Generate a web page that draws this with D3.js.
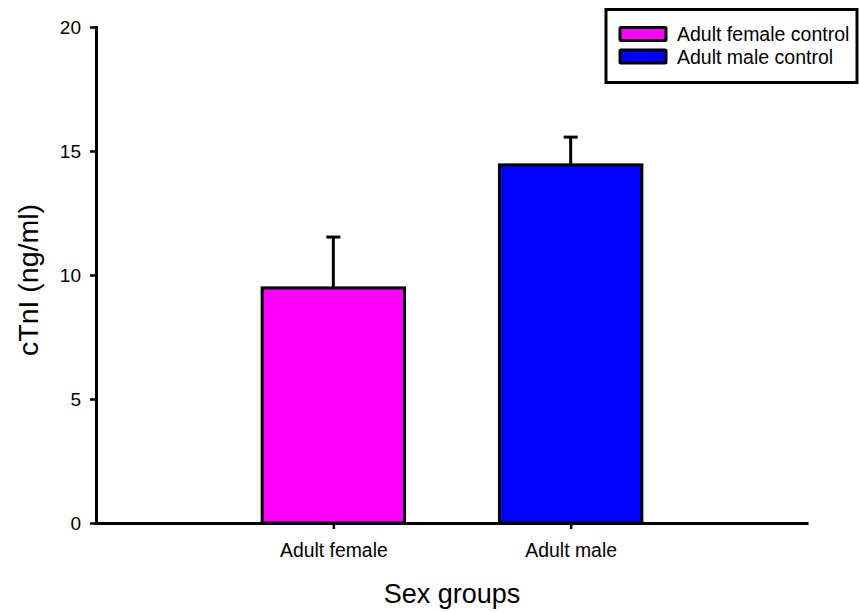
<!DOCTYPE html>
<html>
<head>
<meta charset="utf-8">
<script src="https://cdn.jsdelivr.net/npm/d3@7"></script>
<style>
  html, body { margin: 0; padding: 0; background: #fff; }
  svg { display: block; font-family: Arial, "Liberation Sans", sans-serif; }
</style>
</head>
<body>
<svg id="chart" width="859" height="612"></svg>
<script>
// Serum cTnI by sex group (mean with upper SE bar)
const categories = ["Adult female", "Adult male"];
const seriesNames = ["Adult female control", "Adult male control"];
const means = [9.48, 14.44];
const errors = [2.05, 1.12];
const colors = ["#ff00ff", "#0000ff"];
const yTicks = [0, 5, 10, 15, 20];

const svg = d3.select("#chart");
const plotLeft = 96, plotRight = 808, plotTop = 27, plotBottom = 523;
const fontFamily = "Arial, 'Liberation Sans', sans-serif";

const x = d3.scaleLinear().domain([0, categories.length + 1]).range([plotLeft, plotRight]);
const y = d3.scaleLinear().domain([0, 20]).range([plotBottom, plotTop]);
const barWidth = (x(1) - x(0)) * 0.6;

// bars
svg.append("g").selectAll("rect")
  .data(categories)
  .join("rect")
  .attr("x", (d, i) => x(i + 1) - barWidth / 2)
  .attr("y", (d, i) => y(means[i]))
  .attr("width", barWidth)
  .attr("height", (d, i) => y(0) - y(means[i]))
  .attr("fill", (d, i) => colors[i])
  .attr("stroke", "#000")
  .attr("stroke-width", 3);

// upper error bars
const eb = svg.append("g").attr("stroke", "#000").attr("stroke-width", 3);
categories.forEach((d, i) => {
  const cx = x(i + 1);
  eb.append("line").attr("x1", cx).attr("x2", cx)
    .attr("y1", y(means[i])).attr("y2", y(means[i] + errors[i]));
  eb.append("line").attr("x1", cx - 7).attr("x2", cx + 7)
    .attr("y1", y(means[i] + errors[i])).attr("y2", y(means[i] + errors[i]));
});

// y axis
const yAxis = svg.append("g")
  .attr("transform", `translate(${plotLeft},0)`)
  .call(d3.axisLeft(y).tickValues(yTicks).tickSize(6).tickSizeOuter(0).tickPadding(9));
yAxis.select(".domain").attr("stroke-width", 3).attr("stroke-linecap", "square");
yAxis.selectAll(".tick line").attr("stroke-width", 2.5);
yAxis.selectAll(".tick text").attr("font-size", 19).attr("fill", "#000")
  .attr("font-family", fontFamily);

// x axis
const xAxis = svg.append("g")
  .attr("transform", `translate(0,${plotBottom})`)
  .call(d3.axisBottom(x).tickValues([1, 2]).tickFormat(d => categories[d - 1])
    .tickSize(6).tickSizeOuter(0).tickPadding(14));
xAxis.select(".domain").attr("stroke-width", 3);
xAxis.selectAll(".tick line").attr("stroke-width", 2.5);
xAxis.selectAll(".tick text").attr("font-size", 19.4).attr("fill", "#000")
  .attr("font-family", fontFamily);

// axis titles
svg.append("text")
  .attr("x", (plotLeft + plotRight) / 2).attr("y", 603)
  .attr("text-anchor", "middle").attr("font-size", 27)
  .text("Sex groups");
svg.append("text")
  .attr("transform", `translate(38,280) rotate(-90)`)
  .attr("text-anchor", "middle").attr("font-size", 28.5)
  .text("cTnI (ng/ml)");

// legend
const lg = svg.append("g");
lg.append("rect").attr("x", 606).attr("y", 9.5).attr("width", 251).attr("height", 73)
  .attr("fill", "#fff").attr("stroke", "#000").attr("stroke-width", 3);
seriesNames.forEach((name, i) => {
  const yy = 27.5 + i * 22.5;
  lg.append("rect").attr("x", 620).attr("y", yy).attr("width", 46).attr("height", 13)
    .attr("fill", colors[i]).attr("stroke", "#000").attr("stroke-width", 3).attr("rx", 1);
  lg.append("text").attr("x", 677).attr("y", yy + 13.5).attr("font-size", 19.5).text(name);
});
</script>
</body>
</html>
